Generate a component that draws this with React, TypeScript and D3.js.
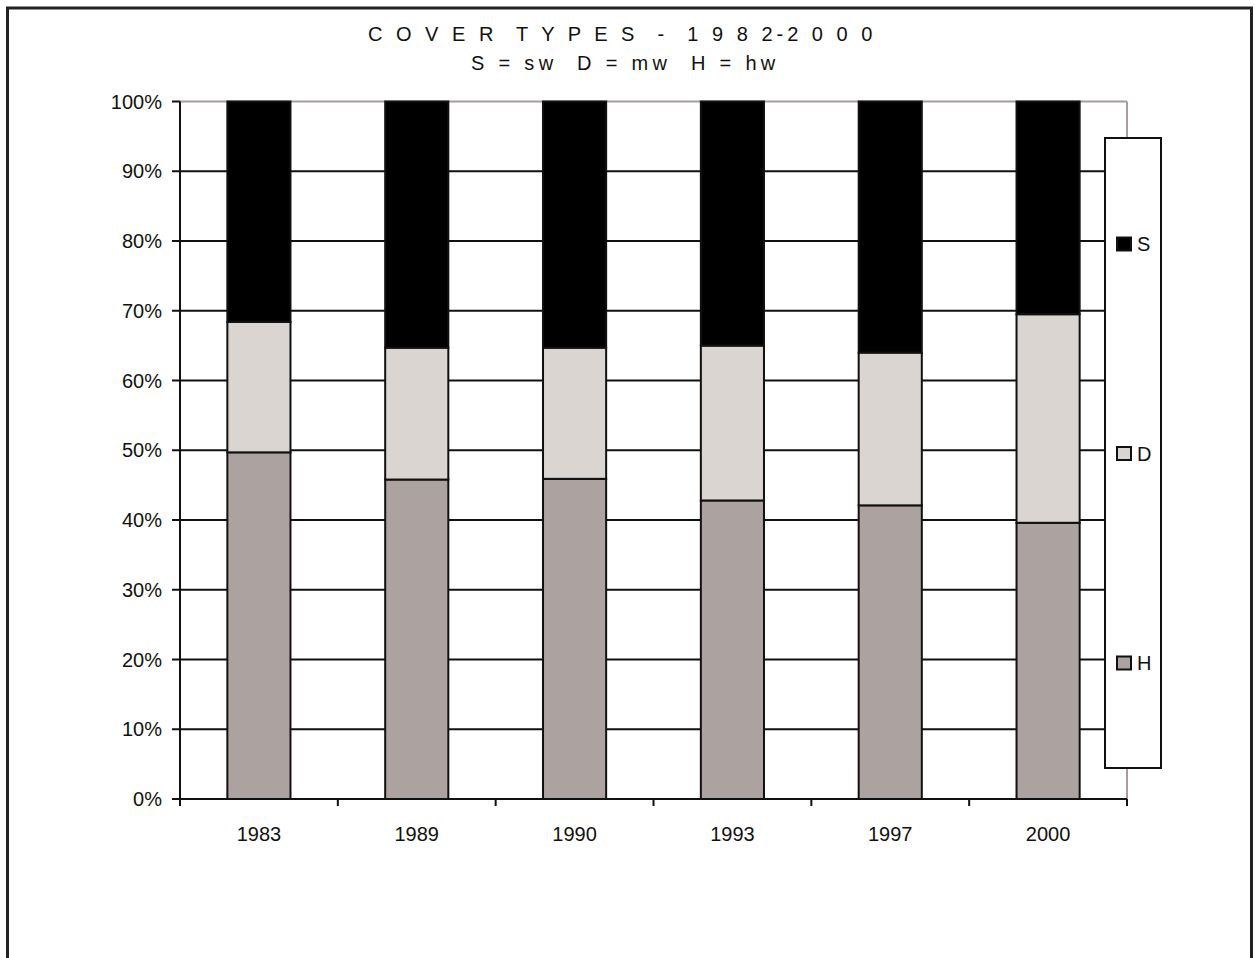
import React from "react";
import * as d3 from "d3";

// Cover type shares (%) per survey year
const years = ["1983", "1989", "1990", "1993", "1997", "2000"];
const hwShare = [49.7, 45.8, 45.9, 42.8, 42.1, 39.6];
const mwShare = [18.7, 18.9, 18.8, 22.2, 21.9, 29.9];
const swShare = [31.6, 35.3, 35.3, 35.0, 36.0, 30.5];

const seriesKeys = ["H", "D", "S"];
const legendOrder = ["S", "D", "H"];
const seriesColors: Record<string, string> = { H: "#aca29f", D: "#dad5d1", S: "#000000" };
const yTicks = [0, 10, 20, 30, 40, 50, 60, 70, 80, 90, 100];

const titleText = "C O V E R  T Y P E S  -  1 9 8 2-2 0 0 0";
const subtitleText = "S = sw  D = mw  H = hw";

const W = 1255;
const H = 958;
const plot = { left: 180, right: 1127, top: 101.5, bottom: 799 };
const FONT = "'Liberation Sans', Arial, sans-serif";

export default function App() {
  const rows = years.map((year, i) => ({ year, H: hwShare[i], D: mwShare[i], S: swShare[i] }));
  const stacked = d3.stack<any>().keys(seriesKeys)(rows);

  const x = d3.scaleBand<string>().domain(years).range([plot.left, plot.right]).padding(0);
  const y = d3.scaleLinear().domain([0, 100]).range([plot.bottom, plot.top]);
  const step = x.step();
  const barW = step * 0.4;

  const boundaries = d3.range(years.length + 1).map((i) => plot.left + i * step);
  const legendY = d3.scalePoint<string>().domain(legendOrder).range([244, 663]);

  return (
    <svg
      width={W}
      height={H}
      style={{ position: "absolute", left: 0, top: 0, background: "#fff" }}
      fontFamily={FONT}
    >
      {/* outer frame */}
      <rect x={7.5} y={8} width={1244} height={1000} fill="none" stroke="#222" strokeWidth={3} />

      {/* titles */}
      <text x={368} y={41} fontSize={20} fill="#111" letterSpacing={4.0} xmlSpace="preserve" style={{ whiteSpace: "pre" }}>
        {titleText}
      </text>
      <text x={471} y={70} fontSize={20} fill="#111" letterSpacing={4.3} xmlSpace="preserve" style={{ whiteSpace: "pre" }}>
        {subtitleText}
      </text>

      {/* plot area border (top/right) */}
      <line x1={plot.left} x2={plot.right} y1={plot.top} y2={plot.top} stroke="#a89c9c" strokeWidth={2} />
      <line x1={plot.right} x2={plot.right} y1={plot.top} y2={plot.bottom} stroke="#a89c9c" strokeWidth={2} />

      {/* horizontal gridlines */}
      {yTicks.filter((t) => t > 0 && t < 100).map((t) => (
        <line key={t} x1={plot.left} x2={plot.right} y1={y(t)} y2={y(t)} stroke="#111" strokeWidth={2} />
      ))}

      {/* stacked bars */}
      {stacked.map((layer) => (
        <g key={layer.key}>
          {layer.map((d, i) => (
            <rect
              key={i}
              x={(x(years[i]) as number) + (step - barW) / 2}
              y={y(d[1])}
              width={barW}
              height={y(d[0]) - y(d[1])}
              fill={seriesColors[layer.key]}
              stroke="#111"
              strokeWidth={2}
            />
          ))}
        </g>
      ))}

      {/* y axis */}
      <line x1={plot.left} x2={plot.left} y1={plot.top} y2={plot.bottom + 7} stroke="#111" strokeWidth={2} />
      {yTicks.map((t) => (
        <g key={t}>
          <line x1={plot.left - 8} x2={plot.left} y1={y(t)} y2={y(t)} stroke="#111" strokeWidth={2} />
          <text x={162} y={y(t) + 7} fontSize={20} textAnchor="end" fill="#111">
            {t}%
          </text>
        </g>
      ))}

      {/* x axis */}
      <line x1={plot.left} x2={plot.right} y1={plot.bottom} y2={plot.bottom} stroke="#111" strokeWidth={2} />
      {boundaries.map((bx, i) => (
        <line key={i} x1={bx} x2={bx} y1={plot.bottom} y2={plot.bottom + 7} stroke="#111" strokeWidth={2} />
      ))}
      {years.map((yr) => (
        <text key={yr} x={(x(yr) as number) + step / 2} y={841} fontSize={20} textAnchor="middle" fill="#111">
          {yr}
        </text>
      ))}

      {/* legend */}
      <rect x={1105} y={138} width={56} height={630} fill="#fff" stroke="#111" strokeWidth={2} />
      {legendOrder.map((k) => (
        <g key={k}>
          <rect x={1117} y={(legendY(k) as number) - 6.5} width={14} height={13} fill={seriesColors[k]} stroke="#111" strokeWidth={2} />
          <text x={1137} y={(legendY(k) as number) + 7} fontSize={20} fill="#111">
            {k}
          </text>
        </g>
      ))}
    </svg>
  );
}
